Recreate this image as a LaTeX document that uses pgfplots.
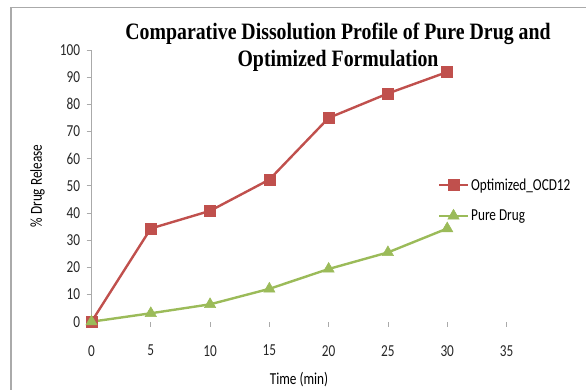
\documentclass[border=0pt]{standalone}
\usepackage{fontspec}
\setmainfont{Carlito}
\newfontfamily\titlefont{Liberation Serif}
\usepackage{pgfplots}
\pgfplotsset{compat=1.18}

\definecolor{optred}{HTML}{C0504D}
\definecolor{puregreen}{HTML}{9BBB59}
\definecolor{framegray}{RGB}{170,170,170}

% text in this chart is set slightly tall and narrow
\newcommand{\tall}[1]{\scalebox{0.95}[1.2]{#1}}

\begin{document}
\begin{tikzpicture}[x=1bp,y=1bp]
\useasboundingbox (0,0) rectangle (586,389);
% outer chart frame
\draw[framegray, line width=1.4bp] (11,-2) -- (11,381.5) -- (588,381.5);

\begin{axis}[
  at={(91.5bp,67.3bp)}, anchor=south west,
  scale only axis, width=415bp, height=271.7bp,
  xmin=0, xmax=35, ymin=0, ymax=100,
  xtick={0,5,...,35}, ytick={0,10,...,100},
  axis x line=bottom, axis y line=left,
  axis line style={-, framegray, line width=0.8bp},
  x axis line style={draw=none},
  tick align=outside, major tick length=5bp,
  tick style={framegray, line width=0.8bp},
  every tick label/.style={font=\fontsize{14}{16}\selectfont, text=black!85},
  xticklabel={\tall{\pgfmathprintnumber{\tick}}},
  yticklabel={\tall{\pgfmathprintnumber{\tick}}},
  xticklabel style={yshift=-15bp},
  yticklabel style={xshift=-3bp},
  /pgf/number format/assume math mode=true,
  xlabel={\tall{Time (min)}}, ylabel={\tall{\% Drug Release}},
  label style={font=\fontsize{14}{16}\selectfont},
  xlabel style={at={(axis description cs:0.5,0)}, anchor=center, yshift=-58bp},
  ylabel style={at={(axis description cs:-0.13,0.5)}, anchor=center},
  clip=false,
  legend style={draw=none, fill=none, at={(axis description cs:0.834,0.447)},
    anchor=west, inner sep=0pt, row sep=14bp,
    font=\fontsize{14}{16}\selectfont, cells={anchor=west}},
  legend image code/.code={
    \draw[mark repeat=2, mark phase=2] plot coordinates {(0bp,0bp) (14.5bp,0bp) (29bp,0bp)};},
]
\addplot[optred, line width=2.4bp, mark=square*, mark size=5.5bp,
  mark options={solid, fill=optred, draw=optred, line width=0.5bp}]
  coordinates {(0,0) (5,34.3) (10,40.8) (15,52.3) (20,75.0) (25,84.0) (30,91.9)};
\addlegendentry{\tall{Optimized\_OCD12}}
\addplot[puregreen, line width=2.4bp, mark=triangle*, mark size=6.5bp,
  mark options={solid, fill=puregreen, draw=puregreen, line width=0.5bp}]
  coordinates {(0,0) (5,3.1) (10,6.4) (15,12.1) (20,19.4) (25,25.5) (30,34.3)};
\addlegendentry{\tall{Pure Drug}}
\end{axis}

% two-line chart title
\node[font=\titlefont\bfseries\fontsize{20.5}{27}\selectfont, inner sep=0pt]
  at (338,355) {\scalebox{0.97}[1.15]{Comparative Dissolution Profile of Pure Drug and}};
\node[font=\titlefont\bfseries\fontsize{20.5}{27}\selectfont, inner sep=0pt]
  at (338,328) {\scalebox{0.97}[1.15]{Optimized Formulation}};
\end{tikzpicture}
\end{document}
